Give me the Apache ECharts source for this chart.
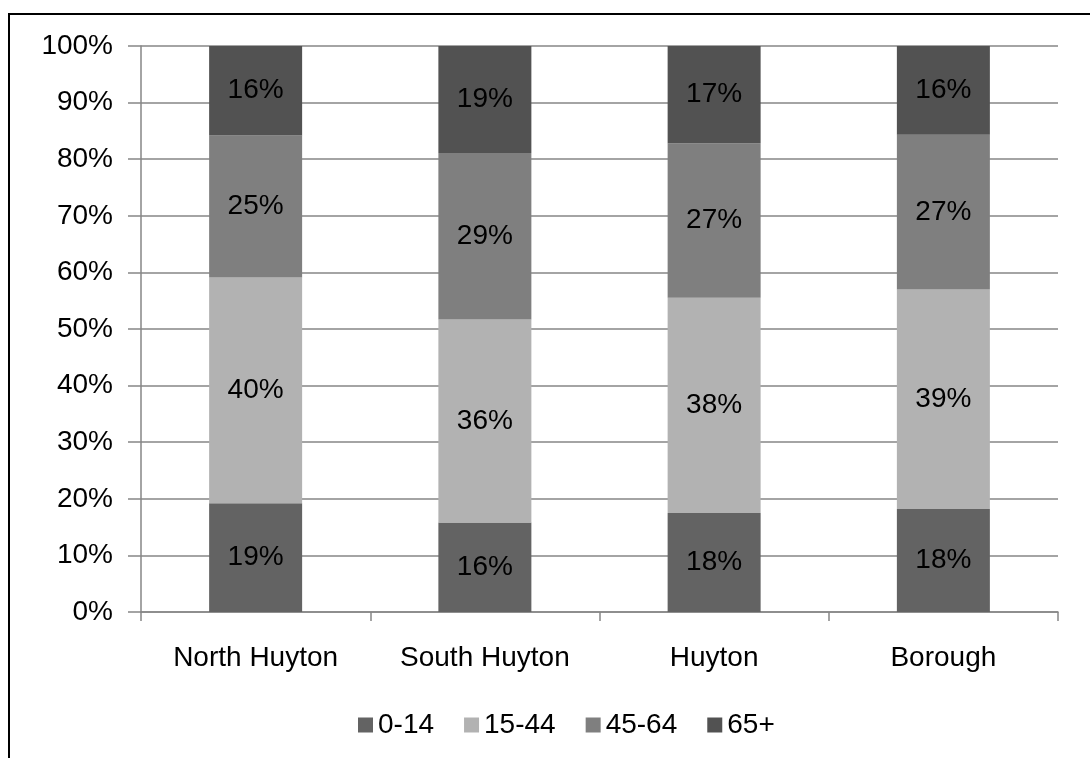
<!DOCTYPE html>
<html>
<head>
<meta charset="utf-8">
<title>Age structure by area</title>
<script src="https://cdn.jsdelivr.net/npm/echarts@6/dist/echarts.min.js"></script>
<style>
  html, body { margin: 0; padding: 0; background: #ffffff; }
  #chart { width: 1090px; height: 758px; }
</style>
</head>
<body>
<div id="chart"></div>
<script>
// Areas along the x axis
const categories = ['North Huyton', 'South Huyton', 'Huyton', 'Borough'];

// Share of population (%) in each age band, per area
const age0to14  = [19.2, 15.8, 17.5, 18.2];
const age15to44 = [39.9, 35.9, 38.0, 38.8];
const age45to64 = [25.1, 29.4, 27.3, 27.3];
const age65plus = [15.8, 18.9, 17.2, 15.7];

const seriesNames = ['0-14', '15-44', '45-64', '65+'];
const seriesColors = ['#636363', '#b2b2b2', '#7f7f7f', '#525252'];
const seriesData = [age0to14, age15to44, age45to64, age65plus];

const FONT = 'Liberation Sans, Arial, sans-serif';
const chart = echarts.init(document.getElementById('chart'), null, { renderer: 'canvas' });

chart.setOption({
  animation: false,
  backgroundColor: '#ffffff',
  textStyle: { fontFamily: FONT },
  graphic: [{
    type: 'rect',
    shape: { x: 9, y: 14, width: 2000, height: 2000 },
    style: { fill: 'none', stroke: '#000000', lineWidth: 2 },
    silent: true
  }],
  grid: { left: 141, right: 32, top: 46, bottom: 146, containLabel: false },
  legend: {
    left: 353,
    top: 706,
    icon: 'rect',
    itemWidth: 15,
    itemHeight: 15,
    itemGap: 30,
    selectedMode: false,
    data: seriesNames,
    textStyle: { fontFamily: FONT, fontSize: 28, color: '#000000' }
  },
  xAxis: {
    type: 'category',
    data: categories,
    axisLine: { lineStyle: { color: '#868686', width: 1.5 } },
    axisTick: { show: true, length: 9, lineStyle: { color: '#868686', width: 1.5 } },
    axisLabel: { fontFamily: FONT, fontSize: 28, color: '#000000', margin: 32 },
    splitLine: { show: false }
  },
  yAxis: {
    type: 'value',
    min: 0,
    max: 100,
    interval: 10,
    axisLine: { show: true, lineStyle: { color: '#868686', width: 1.5 } },
    axisTick: { show: true, length: 13, lineStyle: { color: '#868686', width: 1.5 } },
    axisLabel: { fontFamily: FONT, fontSize: 28, color: '#000000', margin: 28, formatter: '{value}%' },
    splitLine: { show: true, lineStyle: { color: '#868686', width: 1.5 } }
  },
  series: seriesNames.map((name, i) => ({
    name: name,
    type: 'bar',
    stack: 'total',
    barWidth: 93,
    data: seriesData[i],
    itemStyle: { color: seriesColors[i] },
    label: {
      show: true,
      position: 'inside',
      fontFamily: FONT,
      fontSize: 28,
      color: '#000000',
      formatter: p => Math.round(p.value) + '%'
    }
  }))
});
</script>
</body>
</html>
